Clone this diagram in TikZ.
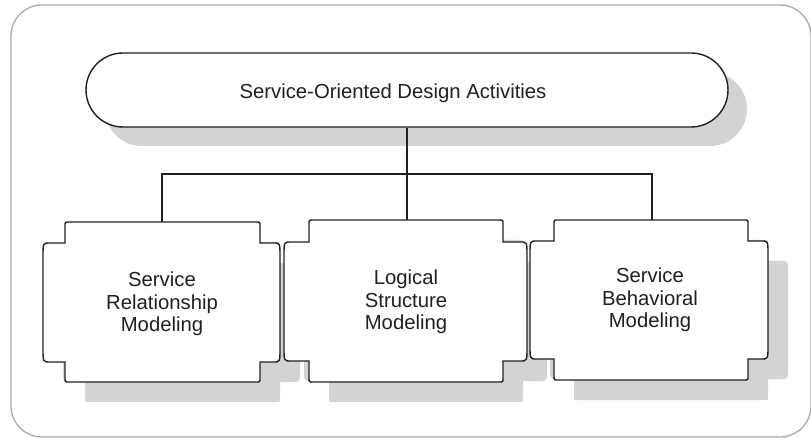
\documentclass[tikz,border=0pt]{standalone}
\usepackage{fontspec}
\setmainfont{Liberation Sans}
\definecolor{ink}{HTML}{231F20}
\definecolor{shade}{HTML}{D1D3D4}
\definecolor{framegray}{HTML}{A7A9AC}
% #1 Lin #2 Rin #3 Lout #4 Rout #5 top #6 step1 #7 step2 #8 bottom #9 style
\newcommand\scrollbox[9]{%
  \path[#9] (#1,#6) -- (#1,#5+4) .. controls (#1,#5) .. (#1+4,#5)
    -- (#2-4,#5) .. controls (#2,#5) .. (#2,#5+4)
    -- (#2,#6) -- (#4-7,#6) .. controls (#4,#6) .. (#4,#6+13)
    -- (#4,#7-13) .. controls (#4,#7) .. (#4-7,#7)
    -- (#2,#7) -- (#2,#8-4) .. controls (#2,#8) .. (#2-4,#8)
    -- (#1+4,#8) .. controls (#1,#8) .. (#1,#8-4)
    -- (#1,#7) -- (#3+7,#7) .. controls (#3,#7) .. (#3,#7-13)
    -- (#3,#6+13) .. controls (#3,#6) .. (#3+7,#6) -- cycle;}
\tikzset{
  outline/.style={draw=ink, line width=1.4pt, fill=white},
  shadowfill/.style={fill=shade, draw=none},
  stadium/.style={rounded corners=37pt, minimum width=642pt, minimum height=74pt, inner sep=0pt},
  label20/.style={font=\fontsize{20.3}{22.5}\selectfont, text=ink, align=center, inner sep=0pt},
  conn/.style={draw=ink, line width=1.4pt}
}
\begin{document}
\begin{tikzpicture}[x=1pt, y=-1pt]
\useasboundingbox (0,0) rectangle (811,438);
\clip (0,0) rectangle (811,438);
% frame
\draw[framegray, line width=1.3pt, rounded corners=31pt] (11,5) rectangle (811,437);
% shadows
\node[stadium, shadowfill] (mainshadow) at (426,109) {};
\begin{scope}[shift={(20,20)}]
  \scrollbox{65}{260}{43}{280}{222}{243}{362}{382}{shadowfill}
  \scrollbox{309}{503}{284}{527}{220}{242}{361}{382}{shadowfill}
  \scrollbox{554}{748}{530}{768}{220}{241}{359}{380}{shadowfill}
\end{scope}
% top box
\node[stadium, outline] (main) at (407,90) {};
\node[label20, anchor=base] (maintitle) at (393,99) {Service-Oriented Design Activities};
% connector junctions
\coordinate (b1top) at (162,222);
\coordinate (b2top) at (407,220);
\coordinate (b3top) at (652,220);
\coordinate (j1) at (162,174);
\coordinate (j3) at (652,174);
\draw[conn] (main.south) -- (b2top);
\draw[conn] (b1top) -- (j1) -- (j3) -- (b3top);
% boxes
\scrollbox{65}{260}{43}{280}{222}{243}{362}{382}{outline}
\scrollbox{309}{503}{284}{527}{220}{242}{361}{382}{outline}
\scrollbox{554}{748}{530}{768}{220}{241}{359}{380}{outline}
\node[label20] (b1) at (162,304) {Service\\Relationship\\Modeling};
\node[label20] (b2) at (406,302) {Logical\\Structure\\Modeling};
\node[label20] (b3) at (650,300) {Service\\Behavioral\\Modeling};
\end{tikzpicture}
\end{document}
